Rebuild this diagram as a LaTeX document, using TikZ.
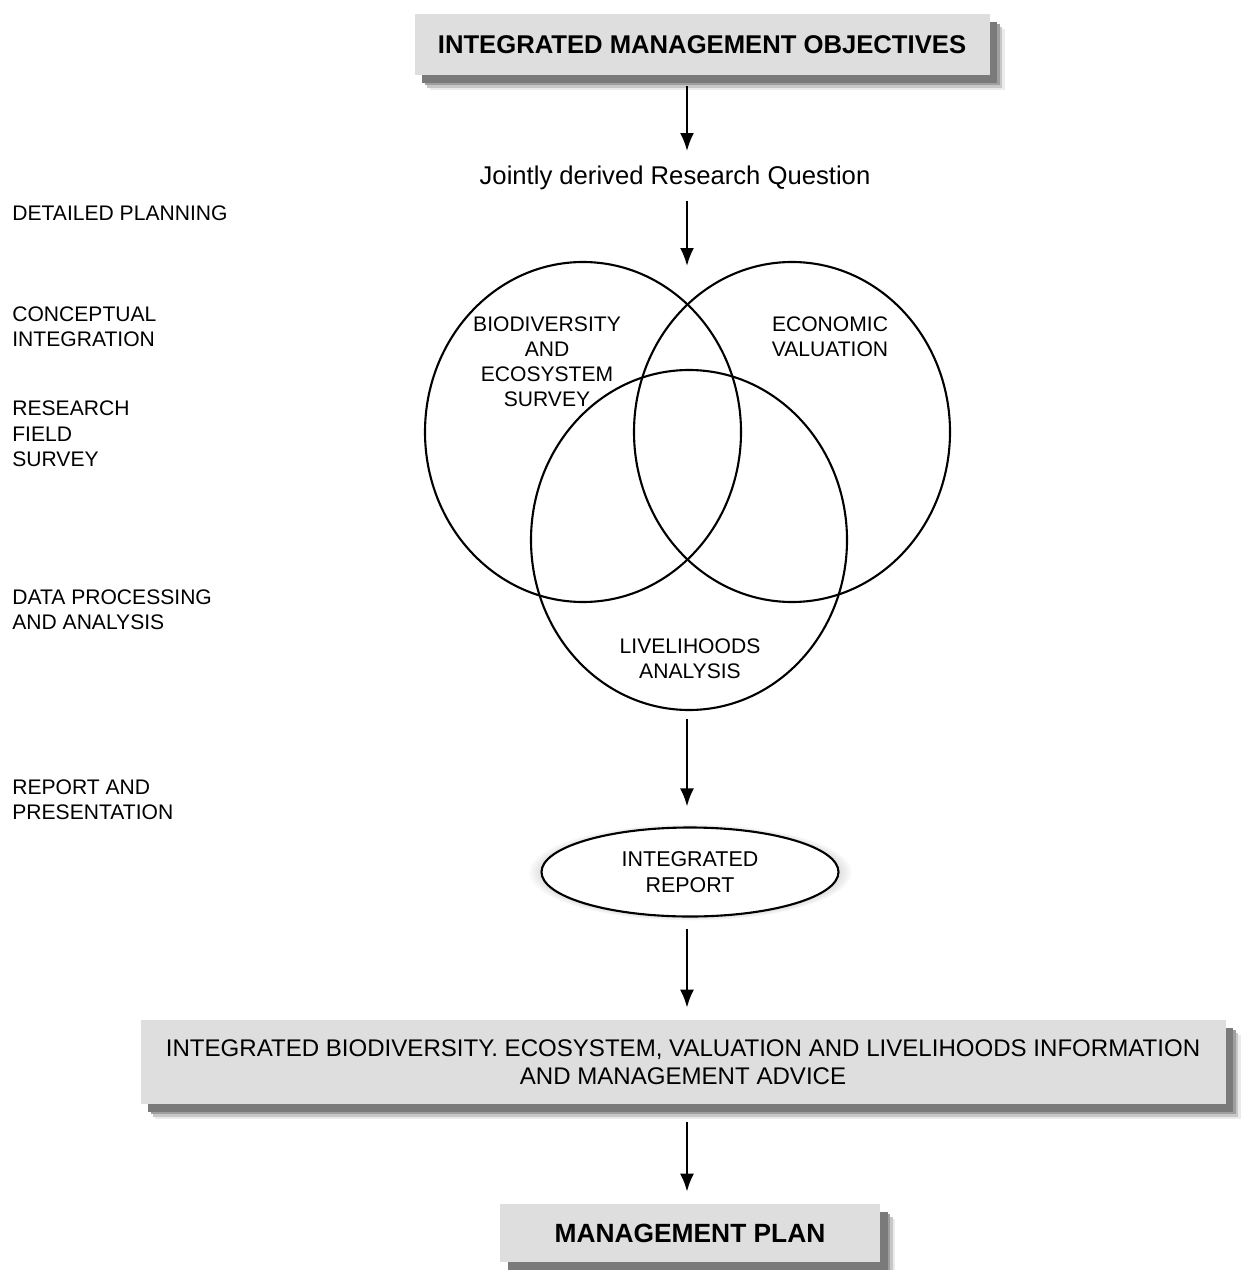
\documentclass[tikz,border=0pt]{standalone}
\usepackage{fontspec}
\setmainfont{Liberation Sans}
\usetikzlibrary{positioning,calc,shapes.geometric,shadows,arrows.meta}

\begin{document}
\begin{tikzpicture}[x=0.02cm,y=-0.02cm]

\def\px{0.02cm}
\tikzstyle{shadowed} = [
	drop shadow={shadow xshift=3mm, shadow yshift=-3mm, fill=black!8, opacity=1},
	drop shadow={shadow xshift=2.5mm, shadow yshift=-2.5mm, fill=black!22, opacity=1},
	drop shadow={shadow xshift=2mm, shadow yshift=-2mm, fill=black!38, opacity=1},
	drop shadow={shadow xshift=1.5mm, shadow yshift=-1.5mm, fill=black!52, opacity=1} ];
\tikzstyle{greybox} = [rectangle, fill=black!13, inner sep=0pt, align=center, shadowed];
\tikzstyle{venn} = [draw, ellipse, line width=1.2pt, minimum width=316*\px, minimum height=340*\px];
\tikzstyle{inlbl} = [align=center, inner sep=0pt, font=\fontsize{12}{14.3}\selectfont];
\tikzstyle{stage} = [anchor=west, align=left, inner sep=0pt, font=\fontsize{12}{14.4}\selectfont];
\tikzstyle{flow} = [-{Latex[length=3.6mm,width=2.8mm]}, line width=1.3pt];
\useasboundingbox (0,0) rectangle (1241,1270);

% stages on the left
\node[stage] (plan) at (12,213) {DETAILED PLANNING};
\node[stage] (concept) at (12,327) {CONCEPTUAL\\INTEGRATION};
\node[stage] (field) at (12,434) {RESEARCH\\FIELD\\SURVEY};
\node[stage] (analysis) at (12,610) {DATA PROCESSING\\AND ANALYSIS};
\node[stage] (present) at (12,800) {REPORT AND\\PRESENTATION};

% flow
\node[greybox, minimum width=575*\px, minimum height=61*\px,
	font=\bfseries\fontsize{14.6}{17}\selectfont] (objectives) at (702,45)
	{INTEGRATED MANAGEMENT OBJECTIVES};
\node[anchor=base, inner sep=0pt, font=\fontsize{14.6}{17}\selectfont] (question) at (675,185)
	{Jointly derived Research Question};

\node[venn] (bio) at (583,432) {};
\node[venn] (eco) at (792,432) {};
\node[venn] (live) at (689,540) {};
\node[inlbl] (biotxt) at (547,362) {BIODIVERSITY\\AND\\ECOSYSTEM\\SURVEY};
\node[inlbl] (ecotxt) at (830,337) {ECONOMIC\\VALUATION};
\node[inlbl] (livetxt) at (690,659) {LIVELIHOODS\\ANALYSIS};

\node[draw, ellipse, line width=1.2pt, fill=white, inner sep=0pt, align=center,
	minimum width=297*\px, minimum height=89*\px,
	circular glow={fill=black!22, shadow scale=1.09},
	font=\fontsize{12.2}{14.5}\selectfont] (report) at (690,872) {INTEGRATED\\REPORT};

\node[greybox, minimum width=1085*\px, minimum height=84*\px,
	font=\fontsize{13.7}{16}\selectfont] (advice) at (683,1062)
	{INTEGRATED BIODIVERSITY. ECOSYSTEM, VALUATION AND LIVELIHOODS INFORMATION\\AND MANAGEMENT ADVICE};
\node[greybox, minimum width=380*\px, minimum height=58*\px,
	font=\bfseries\fontsize{15}{18}\selectfont] (mplan) at (690,1233) {MANAGEMENT PLAN};

\coordinate (venntop) at (687,266);

\draw[flow] ($(objectives.south -| venntop)+(0,10)$) -- ($(question.north -| venntop)+(0,-15)$);
\draw[flow] ($(question.south -| venntop)+(0,10)$) -- (venntop);
\draw[flow] ($(live.south -| venntop)+(0,8)$) -- ($(report.north -| venntop)+(0,-20)$);
\draw[flow] ($(report.south -| venntop)+(0,11)$) -- ($(advice.north -| venntop)+(0,-12)$);
\draw[flow] ($(advice.south -| venntop)+(0,18)$) -- ($(mplan.north -| venntop)+(0,-12)$);

\end{tikzpicture}
\end{document}
